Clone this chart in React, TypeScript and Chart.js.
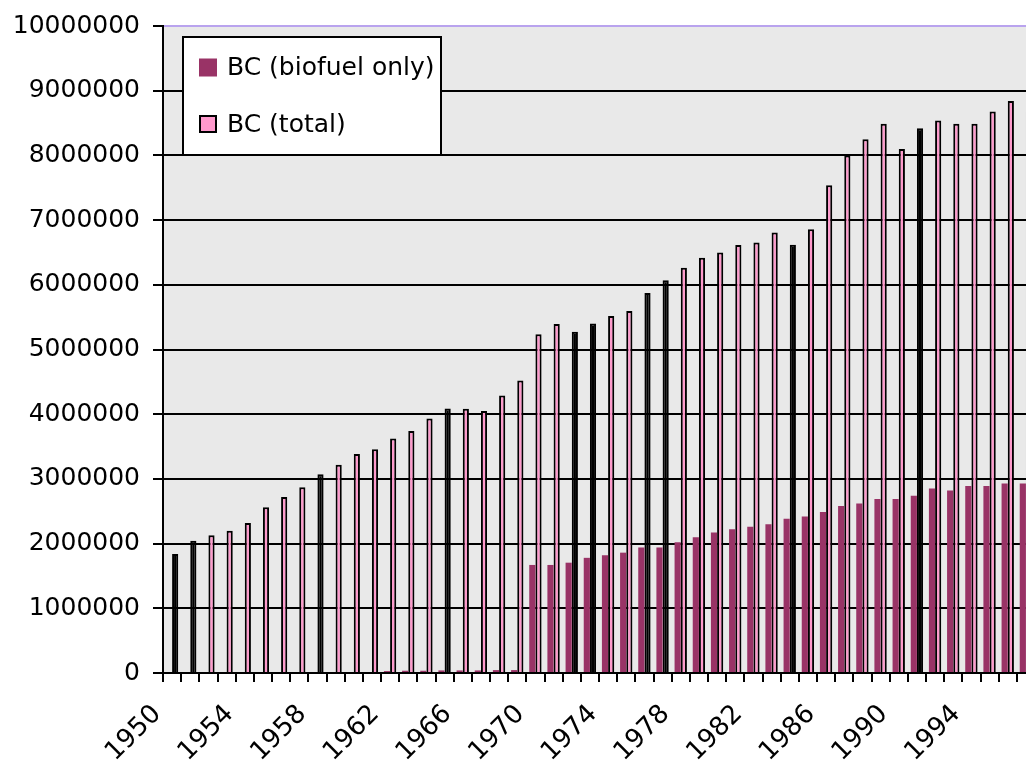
import { useEffect, useRef } from 'react';
import { Chart, registerables } from 'chart.js';

Chart.register(...registerables);

// Categories
const years: string[] = [
  '1950', '1951', '1952', '1953', '1954', '1955', '1956', '1957', '1958', '1959',
  '1960', '1961', '1962', '1963', '1964', '1965', '1966', '1967', '1968', '1969',
  '1970', '1971', '1972', '1973', '1974', '1975', '1976', '1977', '1978', '1979',
  '1980', '1981', '1982', '1983', '1984', '1985', '1986', '1987', '1988', '1989',
  '1990', '1991', '1992', '1993', '1994', '1995', '1996', '1997',
];

// Series: BC (biofuel only)
const biofuel: number[] = [
  0, 0, 0, 0, 0, 0, 0, 0, 0, 0,
  0, 0, 30000, 35000, 35000, 40000, 40000, 40000, 45000, 45000,
  1670000, 1670000, 1705000, 1780000, 1820000, 1860000, 1940000, 1940000, 2020000, 2100000,
  2170000, 2220000, 2260000, 2300000, 2385000, 2420000, 2490000, 2580000, 2620000, 2690000,
  2690000, 2740000, 2850000, 2820000, 2890000, 2890000, 2930000, 2930000,
];

// Series: BC (total)
const total: number[] = [
  1840000, 2045000, 2130000, 2200000, 2320000, 2560000, 2720000, 2870000, 3070000, 3220000,
  3385000, 3460000, 3625000, 3740000, 3935000, 4090000, 4085000, 4050000, 4290000, 4520000,
  5235000, 5394000, 5275000, 5400000, 5518000, 5595000, 5875000, 6070000, 6265000, 6420000,
  6500000, 6615000, 6655000, 6810000, 6620000, 6860000, 7540000, 8000000, 8250000, 8490000,
  8100000, 8420000, 8540000, 8490000, 8490000, 8680000, 8840000, 8680000,
];

// Total bars that appear solid black in the picture
const darkTotalYears: string[] = ['1950', '1951', '1958', '1965', '1972', '1973', '1976', '1977', '1984', '1991'];

// Y tick values
const yMin = 0;
const yMax = 10000000;
const yStep = 1000000;

const BIOFUEL_COLOR = '#993366';
const TOTAL_COLOR = '#ff99cc';
const FONT = 'DejaVu Sans';

export default function App() {
  const ref = useRef<HTMLCanvasElement>(null);

  useEffect(() => {
    const canvas = ref.current;
    if (!canvas) return;

    const plotBg = {
      id: 'plotBg',
      beforeDraw(chart: any) {
        const { ctx, chartArea: a } = chart;
        ctx.save();
        ctx.fillStyle = '#e9e9e9';
        ctx.fillRect(a.left, a.top, a.right - a.left, a.bottom - a.top);
        ctx.restore();
      },
    };

    const legendBox = {
      id: 'legendBox',
      afterDraw(chart: any) {
        const { ctx } = chart;
        const x0 = 183;
        const y0 = 37;
        const w = 258;
        const h = 118;
        ctx.save();
        ctx.fillStyle = '#ffffff';
        ctx.fillRect(x0, y0, w, h);
        ctx.strokeStyle = '#000';
        ctx.lineWidth = 2;
        ctx.strokeRect(x0, y0, w, h);
        const rows = [
          { label: chart.data.datasets[0].label, color: BIOFUEL_COLOR, border: false, cy: 67.5 },
          { label: chart.data.datasets[1].label, color: TOTAL_COLOR, border: true, cy: 124 },
        ];
        ctx.font = `25px "${FONT}"`;
        ctx.textBaseline = 'middle';
        ctx.textAlign = 'left';
        rows.forEach((r) => {
          ctx.fillStyle = r.color;
          ctx.fillRect(199, r.cy - 9, 18, 18);
          if (r.border) {
            ctx.strokeStyle = '#000';
            ctx.lineWidth = 2;
            ctx.strokeRect(200, r.cy - 8, 16, 16);
          }
          ctx.fillStyle = '#000';
          ctx.fillText(r.label, 227, r.cy + 1);
        });
        ctx.restore();
      },
    };

    const chart = new Chart(canvas, {
      type: 'bar',
      data: {
        labels: years,
        datasets: [
          {
            label: 'BC (biofuel only)',
            data: biofuel,
            backgroundColor: BIOFUEL_COLOR,
            borderWidth: 0,
            categoryPercentage: 0.68,
            barPercentage: 1,
          },
          {
            label: 'BC (total)',
            data: total,
            backgroundColor: (c: any) =>
              darkTotalYears.includes(years[c.dataIndex]) ? '#000000' : TOTAL_COLOR,
            borderColor: '#000000',
            borderWidth: 2,
            categoryPercentage: 0.68,
            barPercentage: 1,
          },
        ],
      },
      options: {
        responsive: false,
        maintainAspectRatio: false,
        animation: false,
        devicePixelRatio: 1,
        layout: { padding: { top: 26, left: 0, right: 0, bottom: 0 } },
        plugins: {
          legend: { display: false },
          tooltip: { enabled: false },
        },
        scales: {
          x: {
            offset: true,
            grid: {
              offset: true,
              drawOnChartArea: false,
              drawTicks: true,
              tickLength: 9,
              color: '#000',
              lineWidth: 2,
            },
            border: { display: true, color: '#000', width: 2 },
            ticks: {
              autoSkip: false,
              minRotation: 45,
              maxRotation: 45,
              padding: 17,
              labelOffset: -15,
              color: '#000',
              font: { family: FONT, size: 26 },
              callback: (_v: any, i: number) => (i % 4 === 0 ? years[i] : ''),
            },
            afterFit: (s: any) => {
              s.height = 92;
              s.paddingLeft = 0;
              s.paddingRight = 0;
            },
          },
          y: {
            min: yMin,
            max: yMax,
            grid: {
              color: (c: any) => (c.tick && c.tick.value === yMax ? '#b9a3ee' : '#000'),
              tickColor: '#000',
              lineWidth: 2,
              tickLength: 10,
              drawTicks: true,
            },
            border: { display: true, color: '#000', width: 2 },
            ticks: {
              stepSize: yStep,
              padding: 13,
              color: '#000',
              font: { family: FONT, size: 25 },
              callback: (v: any) => String(v),
            },
            afterFit: (s: any) => {
              s.width = 163;
              s.paddingTop = 0;
              s.paddingBottom = 0;
            },
          },
        },
      },
      plugins: [plotBg, legendBox],
    });

    return () => chart.destroy();
  }, []);

  return (
    <div
      style={{
        position: 'fixed',
        left: 0,
        top: 0,
        width: 1026,
        height: 765,
        overflow: 'hidden',
        background: '#fff',
      }}
    >
      <canvas ref={ref} width={1035} height={765} style={{ display: 'block', width: 1035, height: 765 }} />
    </div>
  );
}
